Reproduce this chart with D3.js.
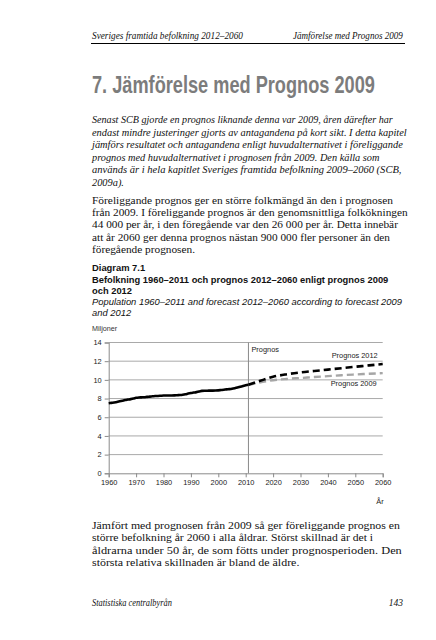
<!DOCTYPE html>
<html><head><meta charset="utf-8">
<script src="https://cdn.jsdelivr.net/npm/d3@7/dist/d3.min.js"></script>
<style>html,body{margin:0;padding:0;background:#fff;}svg{display:block;}</style>
</head><body>
<script>
// ---- data ----
const histYears = [1960,1961,1962,1963,1964,1965,1966,1967,1968,1969,1970,1971,1972,1973,1974,1975,1976,1977,1978,1979,1980,1981,1982,1983,1984,1985,1986,1987,1988,1989,1990,1991,1992,1993,1994,1995,1996,1997,1998,1999,2000,2001,2002,2003,2004,2005,2006,2007,2008,2009,2010,2011];
const histValues = [7.50,7.54,7.58,7.63,7.70,7.77,7.84,7.89,7.94,8.00,8.08,8.12,8.13,8.14,8.18,8.21,8.24,8.27,8.28,8.30,8.32,8.32,8.33,8.33,8.34,8.36,8.38,8.41,8.46,8.53,8.59,8.64,8.69,8.75,8.82,8.84,8.84,8.85,8.85,8.86,8.88,8.91,8.94,8.98,9.01,9.05,9.11,9.18,9.26,9.34,9.42,9.48];
const progYears = [2011,2015,2020,2025,2030,2035,2040,2045,2050,2055,2060];
const prog2012 = [9.48,9.87,10.33,10.60,10.80,10.95,11.10,11.25,11.40,11.55,11.70];
const prog2009 = [9.46,9.72,9.96,10.10,10.20,10.30,10.40,10.50,10.58,10.65,10.72];
const yTicks = [0,2,4,6,8,10,12,14];
const xTicks = [1960,1970,1980,1990,2000,2010,2020,2030,2040,2050,2060];
const forecastStart = 2011;

// ---- texts ----
const headerLeft = "Sveriges framtida befolkning 2012–2060";
const headerRight = "Jämförelse med Prognos 2009";
const titleText = "7. Jämförelse med Prognos 2009";
const introLines = [
 "Senast SCB gjorde en prognos liknande denna var 2009, åren därefter har",
 "endast mindre justeringer gjorts av antagandena på kort sikt. I detta kapitel",
 "jämförs resultatet och antagandena enligt huvudalternativet i föreliggande",
 "prognos med huvudalternativet i prognosen från 2009. Den källa som",
 "används är i hela kapitlet Sveriges framtida befolkning 2009–2060 (SCB,",
 "2009a)."];
const para1Lines = [
 "Föreliggande prognos ger en större folkmängd än den i prognosen",
 "från 2009. I föreliggande prognos är den genomsnittliga folkökningen",
 "44 000 per år, i den föregående var den 26 000 per år. Detta innebär",
 "att år 2060 ger denna prognos nästan 900 000 fler personer än den",
 "föregående prognosen."];
const diagLabel = "Diagram 7.1";
const diagTitleLines = ["Befolkning 1960–2011 och prognos 2012–2060 enligt prognos 2009","och 2012"];
const diagSubLines = ["Population 1960–2011 and forecast 2012–2060 according to forecast 2009","and 2012"];
const unitLabel = "Miljoner";
const xAxisLabel = "År";
const prognosLabel = "Prognos";
const label2012 = "Prognos 2012";
const label2009 = "Prognos 2009";
const para2Lines = [
 "Jämfört med prognosen från 2009 så ger föreliggande prognos en",
 "större befolkning år 2060 i alla åldrar. Störst skillnad är det i",
 "åldrarna under 50 år, de som fötts under prognosperioden. Den",
 "största relativa skillnaden är bland de äldre."];
const footerLeft = "Statistiska centralbyrån";
const footerRight = "143";

// ---- layout ----
const W = 436, H = 640, LX = 92;
const svg = d3.select("body").append("svg").attr("width", W).attr("height", H);
const serif = "'Liberation Serif', 'DejaVu Serif', serif";
const sans = "'Liberation Sans', Arial, sans-serif";

function makeText(str, opts) {
  return svg.append("text").attr("x", 0).attr("y", 0)
    .attr("font-family", opts.family).attr("font-size", opts.size)
    .attr("fill", opts.fill || "#111")
    .attr("font-style", opts.italic ? "italic" : "normal")
    .attr("font-weight", opts.bold ? "bold" : "normal")
    .text(str);
}
// place a text so that it spans `width` px (horizontal scale only), or use scale sx directly
function fitText(str, x0, y0, width, opts, anchorEnd, sxGiven) {
  const t = makeText(str, opts);
  const natural = t.node().getComputedTextLength();
  const sx = width ? width / natural : (sxGiven || 1);
  const w = natural * sx;
  const left = anchorEnd ? x0 - w : x0;
  t.attr("transform", `translate(${left},${y0}) scale(${sx},1)`);
  return sx;
}
// full lines get a target width; short (null) lines use the mean scale of the others
function lines(arr, y0, dy, widths, opts) {
  const scales = [];
  arr.forEach((s, i) => { if (widths[i]) scales.push(fitText(s, LX, y0 + i * dy, widths[i], opts)); });
  const mean = scales.length ? d3.mean(scales) : 1;
  arr.forEach((s, i) => { if (!widths[i]) fitText(s, LX, y0 + i * dy, null, opts, false, mean); });
}

// header
fitText(headerLeft, LX, 38.5, 151, {family: serif, size: 9.5, italic: true});
fitText(headerRight, 403, 38.5, 110, {family: serif, size: 9.5, italic: true}, true);
svg.append("line").attr("x1", 91).attr("x2", 405).attr("y1", 43.5).attr("y2", 43.5).attr("stroke","#000").attr("stroke-width",1);

// title
fitText(titleText, LX, 93, 283, {family: sans, size: 23.5, bold: true, fill: "#7c7c7c"});

// paragraphs
lines(introLines, 123, 12.6, [301,315,311,288,310,null], {family: serif, size: 10.3, italic: true});
lines(para1Lines, 203.5, 12.4, [301,316,306,298,null], {family: serif, size: 10.6});
lines([diagLabel], 271, 0, [null], {family: sans, size: 9.4, bold: true});
lines(diagTitleLines, 282.5, 11, [296,null], {family: sans, size: 9.4, bold: true});
lines(diagSubLines, 305, 11, [310,null], {family: sans, size: 9.4, italic: true});
lines([unitLabel], 331, 0, [null], {family: sans, size: 7.2, fill: "#333"});
lines(para2Lines, 529, 12.3, [308,281,310,null], {family: serif, size: 10.6});
fitText(footerLeft, LX, 606, 80, {family: serif, size: 9.5, italic: true});
fitText(footerRight, 403, 606, null, {family: serif, size: 9.5, italic: true}, true);

// ---- chart ----
const x = d3.scaleLinear().domain([1960, 2060]).range([108.7, 382.7]);
const y = d3.scaleLinear().domain([0, 14]).range([473.3, 342.5]);
const g = svg.append("g");

// gridlines
g.selectAll("line.grid").data(yTicks.filter(d => d > 0)).join("line")
  .attr("x1", x(1960)).attr("x2", x(2060)).attr("y1", d => y(d)).attr("y2", d => y(d))
  .attr("stroke", "#a9a9a9").attr("stroke-width", 1);

// forecast divider
g.append("line").attr("x1", x(forecastStart)).attr("x2", x(forecastStart)).attr("y1", y(14)).attr("y2", y(0))
  .attr("stroke", "#8a8a8a").attr("stroke-width", 1);

// axes
const yAxis = d3.axisLeft(y).tickValues(yTicks).tickSize(4).tickPadding(3);
const xAxis = d3.axisBottom(x).tickValues(xTicks).tickSize(4).tickPadding(2).tickFormat(d3.format("d"));
const ya = g.append("g").attr("transform", `translate(${x(1960)},0)`).call(yAxis);
const xa = g.append("g").attr("transform", `translate(0,${y(0)})`).call(xAxis);
[ya, xa].forEach(a => {
  a.select(".domain").attr("stroke", "#8a8a8a");
  a.selectAll(".tick line").attr("stroke", "#8a8a8a");
  a.selectAll(".tick text").attr("fill", "#222").attr("font-family", sans).attr("font-size", 7.4);
});

// lines
const line = d3.line().x(d => x(d[0])).y(d => y(d[1])).curve(d3.curveMonotoneX);
g.append("path").datum(progYears.map((yr, i) => [yr, prog2009[i]])).attr("d", line)
  .attr("fill", "none").attr("stroke", "#a6a6a6").attr("stroke-width", 2.4).attr("stroke-dasharray", "7,4");
g.append("path").datum(progYears.map((yr, i) => [yr, prog2012[i]])).attr("d", line)
  .attr("fill", "none").attr("stroke", "#000").attr("stroke-width", 2.6).attr("stroke-dasharray", "7,4");
g.append("path").datum(histYears.map((yr, i) => [yr, histValues[i]])).attr("d", line)
  .attr("fill", "none").attr("stroke", "#000").attr("stroke-width", 2.6);

// chart labels
g.append("text").attr("x", x(forecastStart) + 3).attr("y", 351.5).attr("font-family", sans).attr("font-size", 7.4).attr("fill","#222").text(prognosLabel);
g.append("text").attr("x", 377.7).attr("y", 358).attr("text-anchor","end").attr("font-family", sans).attr("font-size", 7.4).attr("fill","#222").text(label2012);
g.append("text").attr("x", 376.7).attr("y", 386).attr("text-anchor","end").attr("font-family", sans).attr("font-size", 7.4).attr("fill","#222").text(label2009);
g.append("text").attr("x", 380).attr("y", 503.5).attr("text-anchor","middle").attr("font-family", sans).attr("font-size", 7.4).attr("fill","#222").text(xAxisLabel);
</script>
</body></html>
